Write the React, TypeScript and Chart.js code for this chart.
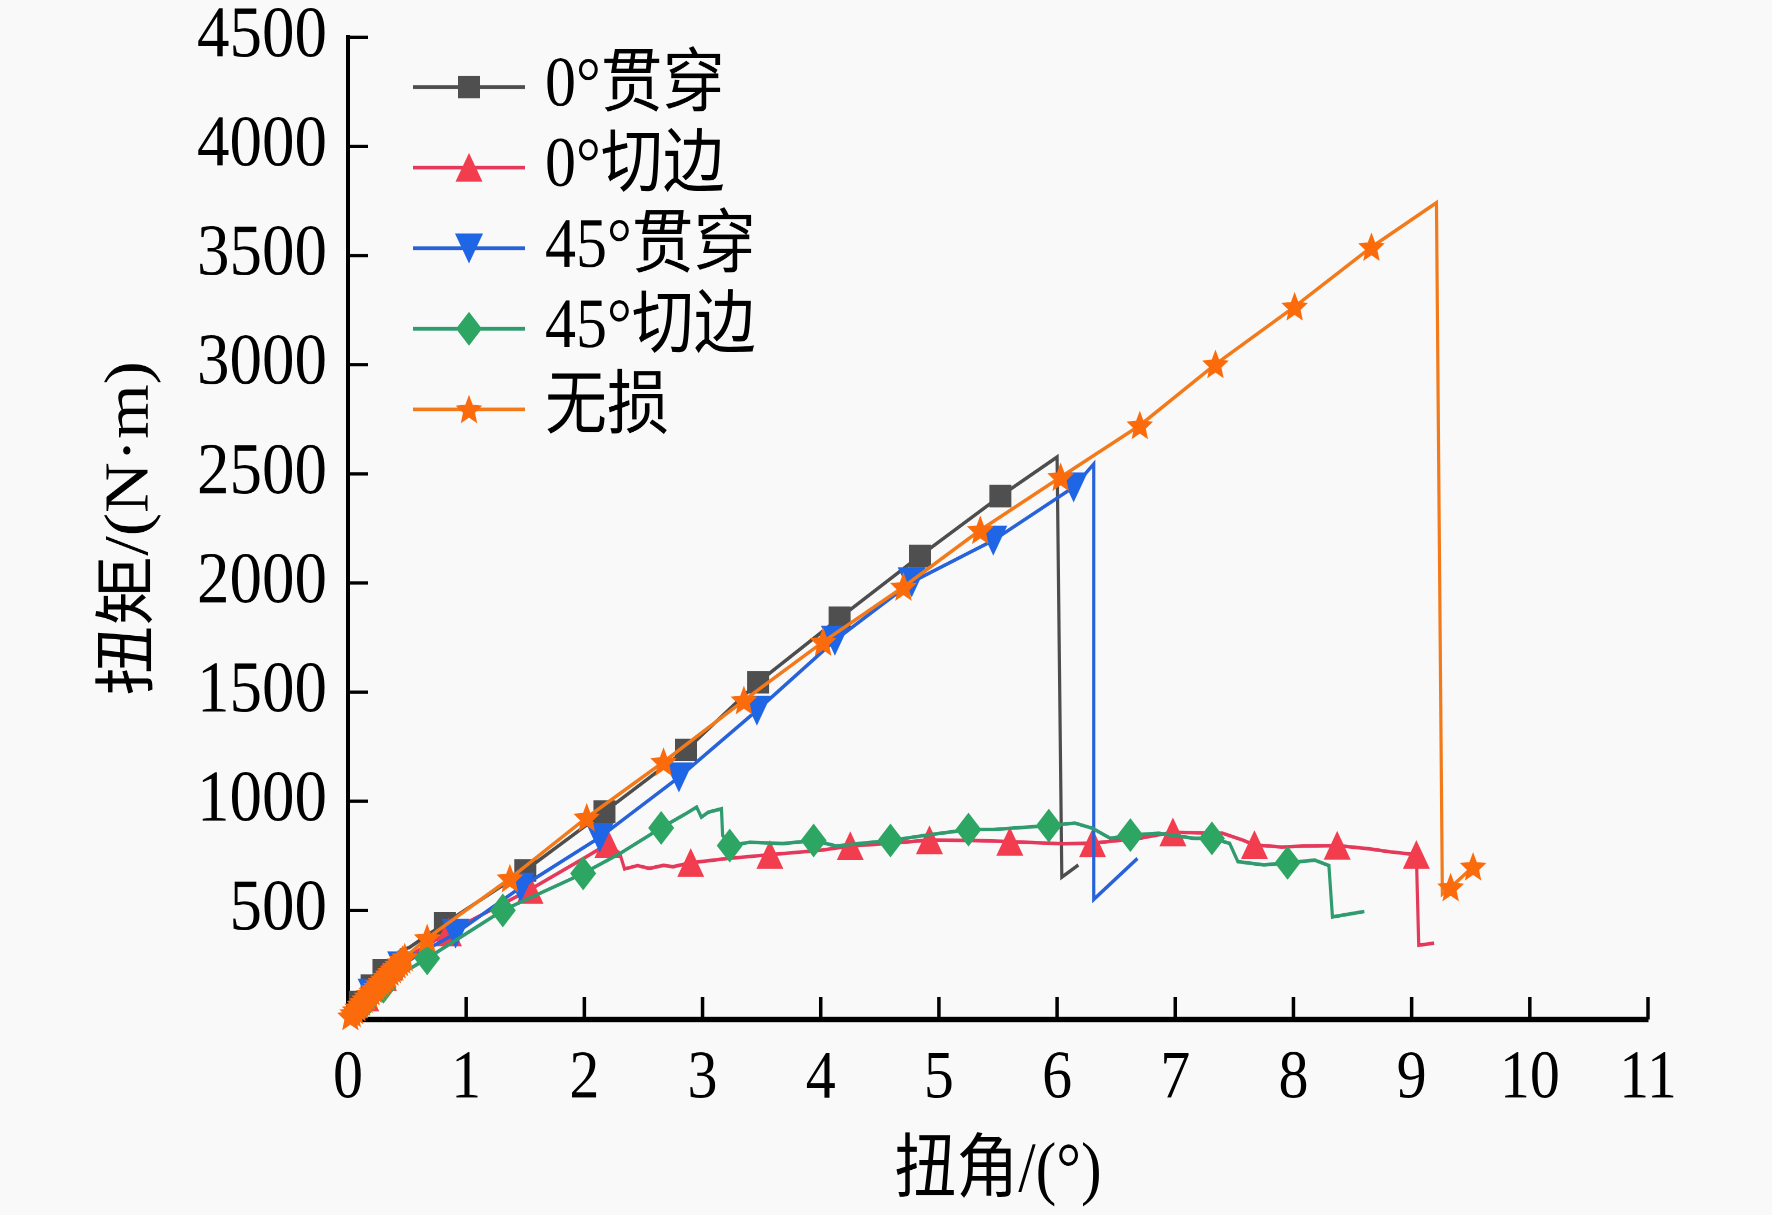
import { useEffect, useRef } from 'react';
import { Chart, registerables } from 'chart.js';

Chart.register(...registerables);

type Pt = [number, number];

// 扭角 (°) / 扭矩 (N·m)
const through0Line: Pt[] = [
  [0, 0], [0.1, 80], [0.2, 155], [0.3, 225], [0.4, 290], [0.45, 318], [0.52, 330], [0.6, 360],
  [0.82, 440], [1.5, 683], [2.17, 952], [2.86, 1235], [3.47, 1545], [4.16, 1840], [4.84, 2124],
  [5.52, 2398], [6.0, 2577], [6.04, 652], [6.18, 708],
];
const through0Marks: Pt[] = [
  [0.1, 80], [0.2, 155], [0.3, 225], [0.82, 440], [1.5, 683], [2.17, 952], [2.86, 1235],
  [3.47, 1545], [4.16, 1840], [4.84, 2124], [5.52, 2398],
];

const edge0Line: Pt[] = [
  [0, 0], [0.1, 70], [0.2, 135], [0.3, 195], [0.4, 245], [0.5, 285], [0.85, 400], [1.54, 595],
  [2.0, 740], [2.2, 805], [2.3, 760], [2.34, 690], [2.45, 705], [2.55, 692], [2.67, 706],
  [2.75, 700], [2.9, 718], [3.2, 737], [3.57, 755], [4.0, 775], [4.25, 795], [4.6, 808],
  [4.92, 822], [5.3, 820], [5.6, 815], [6.05, 805], [6.3, 808], [6.7, 830], [6.98, 858],
  [7.4, 853], [7.57, 822], [7.67, 800], [7.9, 790], [8.1, 795], [8.37, 797], [8.64, 782],
  [8.82, 768], [9.04, 755], [9.06, 340], [9.19, 350],
];
const edge0Marks: Pt[] = [
  [0.15, 102], [0.3, 195], [0.85, 400], [1.54, 595], [2.2, 805], [2.9, 718], [3.57, 755],
  [4.25, 795], [4.92, 822], [5.6, 815], [6.3, 808], [6.98, 858], [7.67, 800], [8.37, 797],
  [9.04, 755],
];

const through45Line: Pt[] = [
  [0, 0], [0.1, 60], [0.2, 120], [0.3, 175], [0.45, 245], [0.6, 300], [0.91, 394], [1.46, 605],
  [2.13, 834], [2.8, 1110], [3.46, 1416], [4.12, 1737], [4.77, 2004], [5.46, 2195], [6.14, 2439],
  [6.31, 2545], [6.31, 550], [6.68, 738],
];
const through45Marks: Pt[] = [
  [0.2, 120], [0.45, 245], [0.91, 394], [1.46, 605], [2.13, 834], [2.8, 1110], [3.46, 1416],
  [4.12, 1737], [4.77, 2004], [5.46, 2195], [6.14, 2439],
];

const edge45Line: Pt[] = [
  [0, 0], [0.1, 55], [0.2, 105], [0.3, 150], [0.4, 190], [0.5, 225], [0.67, 280], [1.31, 500],
  [1.99, 669], [2.3, 760], [2.65, 878], [2.85, 940], [2.95, 973], [2.99, 927], [3.05, 950],
  [3.16, 965], [3.17, 843], [3.23, 797], [3.4, 812], [3.68, 806], [3.94, 820], [4.13, 795],
  [4.3, 805], [4.59, 820], [4.9, 845], [5.25, 870], [5.47, 871], [5.93, 888], [6.15, 900],
  [6.3, 876], [6.45, 830], [6.62, 845], [6.86, 853], [7.16, 830], [7.31, 830], [7.46, 807],
  [7.53, 723], [7.75, 708], [7.95, 718], [8.18, 730], [8.3, 705], [8.33, 470], [8.6, 495],
];
const edge45Marks: Pt[] = [
  [0.15, 80], [0.3, 150], [0.67, 280], [1.31, 500], [1.99, 669], [2.65, 878], [3.23, 797],
  [3.94, 820], [4.59, 820], [5.25, 870], [5.93, 888], [6.62, 845], [7.31, 830], [7.95, 718],
];

const intactLine: Pt[] = [
  [0, 0], [0.04, 28], [0.08, 55], [0.12, 80], [0.16, 105], [0.2, 128], [0.24, 150], [0.28, 172],
  [0.32, 195], [0.36, 218], [0.4, 240], [0.44, 262], [0.48, 284], [0.52, 302], [0.67, 372],
  [1.37, 646], [2.02, 925], [2.67, 1180], [3.35, 1462], [4.02, 1730], [4.7, 1982], [5.35, 2242],
  [6.03, 2485], [6.7, 2722], [7.34, 3002], [8.01, 3266], [8.66, 3539], [9.21, 3742], [9.26, 575],
  [9.33, 605], [9.52, 700],
];
const intactMarks: Pt[] = [
  [0.02, 14], [0.04, 28], [0.06, 42], [0.08, 55], [0.1, 68], [0.12, 80], [0.14, 92], [0.16, 105],
  [0.18, 117], [0.2, 128], [0.22, 139], [0.24, 150], [0.26, 161], [0.28, 172], [0.3, 183],
  [0.32, 195], [0.34, 206], [0.36, 218], [0.38, 229], [0.4, 240], [0.42, 251], [0.44, 262],
  [0.46, 273], [0.48, 284], [0.67, 372], [1.37, 646], [2.02, 925], [2.67, 1180], [3.35, 1462],
  [4.02, 1730], [4.7, 1982], [5.35, 2242], [6.03, 2485], [6.7, 2722], [7.34, 3002], [8.01, 3266],
  [8.66, 3539], [9.33, 605], [9.52, 700],
];

const seriesNames = ['0°贯穿', '0°切边', '45°贯穿', '45°切边', '无损'];
const seriesLines = [through0Line, edge0Line, through45Line, edge45Line, intactLine];
const seriesMarks = [through0Marks, edge0Marks, through45Marks, edge45Marks, intactMarks];
const xTickValues = [0, 1, 2, 3, 4, 5, 6, 7, 8, 9, 10, 11];
const yTickValues = [500, 1000, 1500, 2000, 2500, 3000, 3500, 4000, 4500];

const lineColors = ['#4d4d4d', '#e5395c', '#2762d8', '#2f9b6f', '#f27a1b'];
const markColors = ['#4f4f4f', '#f23d4f', '#1f66e6', '#2ea663', '#fb6b0c'];
const markShapes = ['square', 'up', 'down', 'diamond', 'star'];

const FONT = "'Liberation Serif', 'Times New Roman', 'Noto Sans CJK SC', serif";
// the source figure is stretched vertically; draw at this height and stretch with css
const DRAW_H = 1075;
const STRETCH = 1215 / DRAW_H;

function drawMarker(ctx: CanvasRenderingContext2D, shape: string, x: number, y: number, color: string) {
  ctx.save();
  ctx.fillStyle = color;
  ctx.beginPath();
  if (shape === 'square') {
    ctx.rect(x - 11, y - 10, 22, 20);
  } else if (shape === 'up') {
    ctx.moveTo(x, y - 13);
    ctx.lineTo(x + 13.5, y + 12.5);
    ctx.lineTo(x - 13.5, y + 12.5);
  } else if (shape === 'down') {
    ctx.moveTo(x, y + 13.5);
    ctx.lineTo(x + 14, y - 13);
    ctx.lineTo(x - 14, y - 13);
  } else if (shape === 'diamond') {
    ctx.moveTo(x, y - 15);
    ctx.lineTo(x + 13, y);
    ctx.lineTo(x, y + 15);
    ctx.lineTo(x - 13, y);
  } else {
    for (let i = 0; i < 10; i++) {
      const r = i % 2 ? 6.3 : 14;
      const a = -Math.PI / 2 + (i * Math.PI) / 5;
      const px = x + r * Math.cos(a);
      const py = y + 1 + r * Math.sin(a);
      if (i === 0) ctx.moveTo(px, py);
      else ctx.lineTo(px, py);
    }
  }
  ctx.closePath();
  ctx.fill();
  ctx.restore();
}

const markerPlugin = {
  id: 'shapeMarkers',
  afterDatasetDraw(chart: Chart, args: any) {
    const ds: any = chart.data.datasets[args.index];
    if (!ds.markShape) return;
    args.meta.data.forEach((el: any) => drawMarker(chart.ctx, ds.markShape, el.x, el.y, ds.markColor));
  },
};

const innerTicksPlugin = {
  id: 'innerTicks',
  beforeDatasetsDraw(chart: Chart) {
    const { ctx, chartArea, scales } = chart;
    ctx.save();
    ctx.strokeStyle = '#000';
    ctx.lineWidth = 3.5;
    scales.x.ticks.forEach((t) => {
      const px = scales.x.getPixelForValue(t.value);
      ctx.beginPath();
      ctx.moveTo(px, chartArea.bottom);
      ctx.lineTo(px, chartArea.bottom - 20);
      ctx.stroke();
    });
    ctx.lineWidth = 3;
    scales.y.ticks.forEach((t) => {
      const py = scales.y.getPixelForValue(t.value);
      ctx.beginPath();
      ctx.moveTo(chartArea.left, py);
      ctx.lineTo(chartArea.left + 20, py);
      ctx.stroke();
    });
    ctx.restore();
  },
};

const insideLegendPlugin = {
  id: 'insideLegend',
  afterDraw(chart: Chart) {
    const { ctx, chartArea } = chart;
    const x0 = chartArea.left + 65;
    ctx.save();
    ctx.font = `62px ${FONT}`;
    ctx.textBaseline = 'middle';
    seriesNames.forEach((name, i) => {
      const y = chartArea.top + 44 + i * 71.3;
      ctx.strokeStyle = lineColors[i];
      ctx.lineWidth = 3.2;
      ctx.beginPath();
      ctx.moveTo(x0, y);
      ctx.lineTo(x0 + 112, y);
      ctx.stroke();
      drawMarker(ctx, markShapes[i], x0 + 56, y, markColors[i]);
      ctx.fillStyle = '#000';
      ctx.fillText(name, x0 + 132, y);
    });
    ctx.restore();
  },
};

function TorqueChart() {
  const chartRef = useRef<HTMLCanvasElement>(null);
  const chartInstance = useRef<Chart | null>(null);

  useEffect(() => {
    if (!chartRef.current) return;
    if (chartInstance.current) chartInstance.current.destroy();

    const datasets: any[] = [];
    seriesNames.forEach((name, i) => {
      datasets.push({
        label: name,
        data: seriesLines[i].map(([x, y]) => ({ x, y })),
        showLine: true,
        borderColor: lineColors[i],
        borderWidth: 3.2,
        pointRadius: 0,
        tension: 0,
        clip: false,
        order: 10 - 2 * i,
      });
      datasets.push({
        label: name + ' 标记',
        data: seriesMarks[i].map(([x, y]) => ({ x, y })),
        showLine: false,
        pointRadius: 0,
        clip: false,
        order: 9 - 2 * i,
        markShape: markShapes[i],
        markColor: markColors[i],
      });
    });

    chartInstance.current = new Chart(chartRef.current, {
      type: 'scatter',
      data: { datasets },
      plugins: [innerTicksPlugin, markerPlugin, insideLegendPlugin],
      options: {
        animation: false,
        responsive: true,
        maintainAspectRatio: false,
        devicePixelRatio: 2,
        events: [],
        layout: { padding: { top: 33, right: 124, left: 0, bottom: 0 } },
        plugins: {
          legend: { display: false },
          tooltip: { enabled: false },
        },
        scales: {
          x: {
            type: 'linear',
            min: 0,
            max: 11,
            grid: { display: false },
            border: { display: true, color: '#000', width: 5 },
            ticks: {
              color: '#000',
              font: { family: FONT, size: 60 },
              padding: 9,
              maxRotation: 0,
              autoSkip: false,
              callback: (v: any) => String(v),
            },
            afterBuildTicks: (scale: any) => {
              scale.ticks = xTickValues.map((value) => ({ value }));
            },
            afterFit: (scale: any) => {
              scale.height = DRAW_H - 902;
              scale.paddingLeft = 0;
              scale.paddingRight = 0;
            },
            title: {
              display: true,
              text: '扭角/(°)',
              color: '#000',
              font: { family: FONT, size: 62 },
              padding: { top: 0, bottom: 0 },
            },
          },
          y: {
            type: 'linear',
            min: 0,
            max: 4500,
            grid: { display: false },
            border: { display: true, color: '#000', width: 4 },
            ticks: {
              color: '#000',
              font: { family: FONT, size: 65 },
              padding: 13,
              autoSkip: false,
              callback: (v: any) => String(v),
            },
            afterBuildTicks: (scale: any) => {
              scale.ticks = yTickValues.map((value) => ({ value }));
            },
            afterFit: (scale: any) => {
              scale.width = 348;
              scale.paddingTop = 0;
              scale.paddingBottom = 0;
            },
            title: {
              display: true,
              text: '扭矩/(N·m)',
              color: '#000',
              font: { family: FONT, size: 62 },
              padding: { top: 94, bottom: 0 },
            },
          },
        },
      } as any,
    });

    return () => {
      if (chartInstance.current) {
        chartInstance.current.destroy();
        chartInstance.current = null;
      }
    };
  }, []);

  return (
    <div
      style={{
        position: 'absolute',
        left: 0,
        top: 0,
        width: 1772,
        height: 1215,
        overflow: 'hidden',
        background: '#f9f9f9',
      }}
    >
      <div
        style={{
          width: 1772,
          height: DRAW_H,
          transform: `scaleY(${STRETCH})`,
          transformOrigin: 'top left',
        }}
      >
        <canvas ref={chartRef}></canvas>
      </div>
    </div>
  );
}

export default function App() {
  return <TorqueChart />;
}
